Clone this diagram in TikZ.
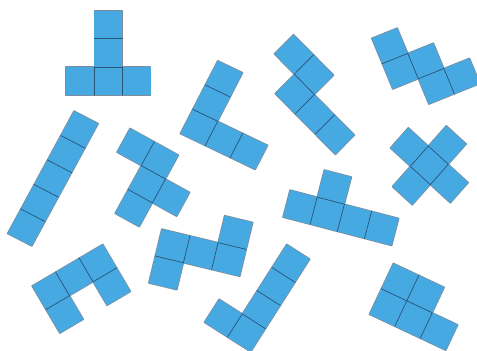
\documentclass[tikz,border=0pt]{standalone}
\usetikzlibrary{calc}
\definecolor{tilefill}{RGB}{70,169,226}
\definecolor{tileline}{RGB}{40,84,122}
\definecolor{tileedge}{RGB}{128,140,152}
\tikzset{
  tileback/.style={draw=tileedge, line width=1.4pt, line join=round},
  tilecell/.style={fill=tilefill},
  tilejoint/.style={draw=tileline, line width=0.7pt, line cap=round}
}
% origin x, origin y, u x, u y, v x, v y, cells
\newcommand\pento[7]{%
  \begin{scope}[shift={(#1pt,#2pt)}, x={(#3pt,#4pt)}, y={(#5pt,#6pt)}]
    \foreach \i/\j in {#7} {\draw[tileback] (\i,\j) -- ++(1,0) -- ++(0,1) -- ++(-1,0) -- cycle;}
    \foreach \i/\j in {#7} {\fill[tilecell] (\i,\j) -- ++(1,0) -- ++(0,1) -- ++(-1,0) -- cycle;}
    \foreach \i/\j in {#7} {
      \foreach \k/\l in {#7} {
        \ifnum\numexpr\i+1\relax=\k\relax\ifnum\j=\l\relax
          \draw[tilejoint] (\k,\l) -- ++(0,1);
        \fi\fi
        \ifnum\numexpr\j+1\relax=\l\relax\ifnum\i=\k\relax
          \draw[tilejoint] (\k,\l) -- ++(1,0);
        \fi\fi
      }
    }
  \end{scope}}
\begin{document}
\begin{tikzpicture}[x=1pt, y=1pt, yscale=-1]
  \useasboundingbox (0,0) rectangle (477,351);
  % T
  \pento{66}{67}{28.2}{0}{0}{28.2}{0/0,1/0,2/0,1/-1,1/-2}
  % I
  \pento{74}{111}{24.3}{12.6}{-13.3}{24.5}{0/0,0/1,0/2,0/3,0/4}
  % L (top centre)
  \pento{217.7}{60.7}{25}{12}{-12.5}{24.3}{0/0,0/1,0/2,1/2,2/2}
  % N
  \pento{293.5}{34.5}{20.1}{20.3}{-19.3}{19.4}{0/0,1/0,1/1,2/1,3/1}
  % W
  \pento{371.7}{38.3}{25.6}{-10.3}{10.5}{25.4}{0/0,0/1,1/1,1/2,2/2}
  % X
  \pento{428.3}{146}{20}{18.3}{-18}{20.3}{0/0,-1/0,1/0,0/-1,0/1}
  % F
  \pento{130}{128.3}{24.3}{13.4}{-13.1}{23.9}{0/0,1/0,1/1,2/1,1/2}
  % Y
  \pento{290}{190}{27.2}{7.1}{-7.1}{27.2}{0/0,1/0,2/0,3/0,1/-1}
  % U
  \pento{32}{286}{23.6}{-13.9}{13.9}{23.6}{0/0,1/0,2/0,2/1,0/1}
  % Z
  \pento{161.7}{229}{28.2}{6.8}{-6.5}{27}{0/0,1/0,2/0,2/-1,0/1}
  % L (bottom centre)
  \pento{263.5}{229.5}{23.2}{14.8}{-14.8}{23.2}{1/0,1/1,1/2,1/3,0/3}
  % P
  \pento{393.3}{263.3}{25.5}{12}{-12}{25.5}{0/0,1/0,0/1,1/1,2/1}
\end{tikzpicture}
\end{document}
